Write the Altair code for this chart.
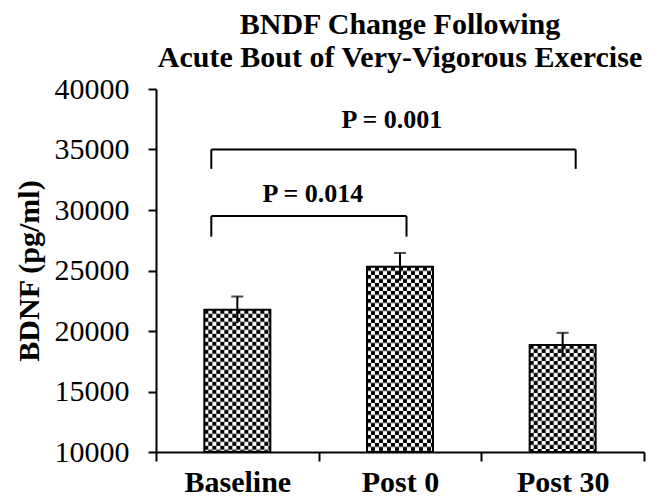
import base64
import altair as alt
import pandas as pd

# ---- data ----
groups = ["Baseline", "Post 0", "Post 30"]
means = [21750, 25300, 18850]
errors = [1100, 1150, 1000]

y_ticks = [10000, 15000, 20000, 25000, 30000, 35000, 40000]

bracket_labels = ["P = 0.014", "P = 0.001"]
bracket_left = [0.34, 0.34]
bracket_right = [1.54, 2.58]
bracket_top = [29500, 35000]
bracket_foot = [27800, 33400]
label_x = [0.965, 1.45]
label_y = [30700, 36800]

SERIF = "Liberation Serif"

bars = pd.DataFrame({"group": groups, "mean": means, "err": errors})
brackets = pd.DataFrame({
    "label": bracket_labels,
    "xl": bracket_left,
    "xr": bracket_right,
    "top": bracket_top,
    "foot": bracket_foot,
    "lx": label_x,
    "ly": label_y,
})

# checkerboard texture (SVG pattern) for the bars
svg = (
    '<svg xmlns="http://www.w3.org/2000/svg" width="100%" height="100%">'
    '<defs><pattern id="c" width="8" height="8" patternUnits="userSpaceOnUse">'
    '<rect width="8" height="8" fill="white"/>'
    '<rect width="4" height="4" fill="black"/>'
    '<rect x="4" y="4" width="4" height="4" fill="black"/>'
    '</pattern></defs>'
    '<rect width="100%" height="100%" fill="url(#c)"/></svg>'
)
texture = "data:image/svg+xml;base64," + base64.b64encode(svg.encode()).decode()

yscale = alt.Scale(domain=[10000, 40000], nice=False, zero=False)

xenc = alt.X(
    "group:N",
    sort=groups,
    scale=alt.Scale(paddingInner=0, paddingOuter=0),
    axis=alt.Axis(
        title=None, labelAngle=0, tickBand="extent", tickSize=9, tickWidth=2,
        domainWidth=2, domainColor="black", tickColor="black",
        labelFont=SERIF, labelFontSize=30, labelFontWeight="bold",
        labelColor="black", labelPadding=6,
    ),
)

yenc = alt.Y(
    "mean:Q",
    scale=yscale,
    axis=alt.Axis(
        values=y_ticks, format="d", grid=False, tickSize=8, tickWidth=2,
        domainWidth=2, domainColor="black", tickColor="black",
        labelFont=SERIF, labelFontSize=30, labelColor="black", labelPadding=19,
        title="BDNF (pg/ml)", titleFont=SERIF, titleFontSize=30,
        titleFontWeight="bold", titleColor="black", titlePadding=10,
    ),
)

base = alt.Chart(bars).encode(x=xenc)

bar_fill = base.mark_bar(size=66, color="#777777").encode(
    y=yenc, y2=alt.datum(10000)
)
bar_tex = base.mark_image(width=66, aspect=False).encode(
    y=alt.Y("mean:Q", scale=yscale), y2=alt.datum(10000), url=alt.value(texture)
)
bar_edge = base.mark_bar(size=66, fillOpacity=0, stroke="black", strokeWidth=2).encode(
    y=alt.Y("mean:Q", scale=yscale), y2=alt.datum(10000)
)
err_rule = base.transform_calculate(
    lo="datum.mean - datum.err", hi="datum.mean + datum.err"
).mark_rule(color="black", strokeWidth=2).encode(
    y=alt.Y("lo:Q", scale=yscale), y2="hi:Q"
)
err_cap = base.transform_calculate(hi="datum.mean + datum.err").mark_tick(
    color="black", size=12, thickness=2
).encode(y=alt.Y("hi:Q", scale=yscale))

xq = alt.Scale(domain=[0, 3], nice=False, zero=False)
ann = alt.Chart(brackets)
br_h = ann.mark_rule(color="black", strokeWidth=2).encode(
    x=alt.X("xl:Q", scale=xq, axis=None), x2="xr:Q", y=alt.Y("top:Q", scale=yscale)
)
br_l = ann.mark_rule(color="black", strokeWidth=2).encode(
    x=alt.X("xl:Q", scale=xq, axis=None), y=alt.Y("foot:Q", scale=yscale), y2="top:Q"
)
br_r = ann.mark_rule(color="black", strokeWidth=2).encode(
    x=alt.X("xr:Q", scale=xq, axis=None), y=alt.Y("foot:Q", scale=yscale), y2="top:Q"
)
br_txt = ann.mark_text(
    font=SERIF, fontSize=26, fontWeight="bold", color="black",
    align="center", baseline="alphabetic",
).encode(x=alt.X("lx:Q", scale=xq, axis=None), y=alt.Y("ly:Q", scale=yscale), text="label:N")

bar_layers = alt.layer(bar_fill, bar_tex, bar_edge, err_rule, err_cap)
ann_layers = alt.layer(br_h, br_l, br_r, br_txt)

chart = (
    alt.layer(bar_layers, ann_layers)
    .resolve_scale(x="independent")
    .properties(
        width=488,
        height=363,
        title=alt.Title(
            text=["BNDF Change Following", "Acute Bout of Very-Vigorous Exercise"],
            font=SERIF, fontSize=30, fontWeight="bold", color="black",
            anchor="middle", frame="group", lineHeight=33, offset=1,
        ),
        autosize=alt.AutoSizeParams(type="none"),
        padding={"left": 148, "top": 81, "right": 8, "bottom": 47},
    )
    .configure_view(stroke=None)
)

chart.save("out.html", embed_options={"renderer": "svg", "actions": False})
